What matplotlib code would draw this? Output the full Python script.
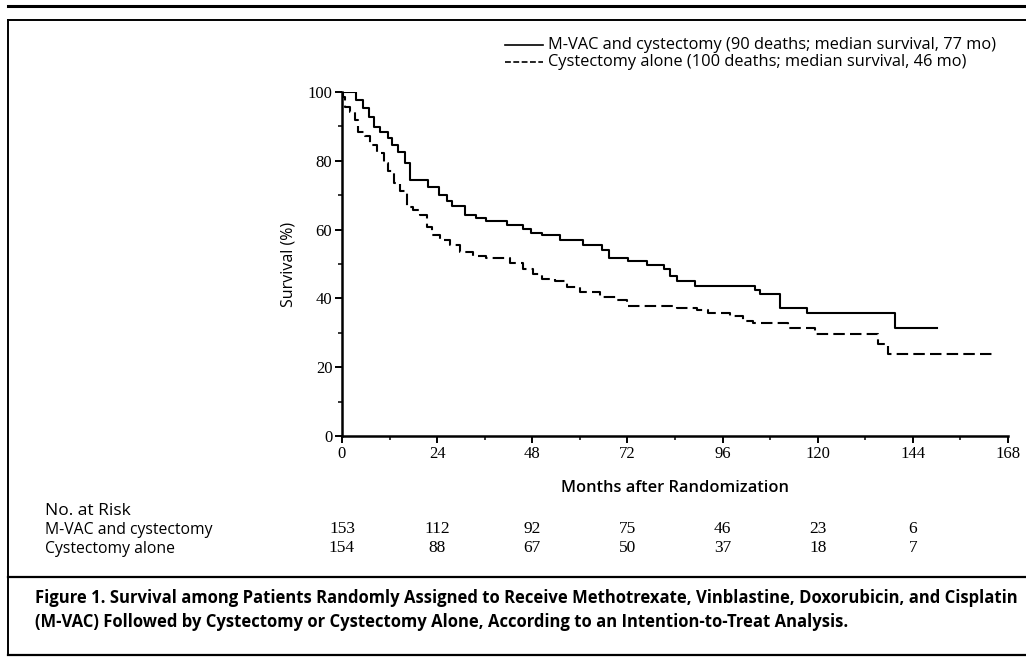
import matplotlib
matplotlib.use("Agg")
import matplotlib.pyplot as plt
from matplotlib.lines import Line2D
from matplotlib.ticker import MultipleLocator

# Kaplan-Meier steps (months, survival %)
mvac_months = [0, 3.5, 5.2, 6.8, 8.0, 9.5, 11.5, 12.5, 14.2, 15.9, 17.2, 21.8, 24.5, 26.5,
               27.7, 31.0, 33.9, 36.4, 41.5, 45.7, 47.8, 50.4, 55.0, 60.8, 65.5, 67.4, 72.2,
               76.9, 81.1, 82.7, 84.4, 89.0, 104.2, 105.4, 110.5, 117.2, 139.5, 150]
mvac_surv = [100, 97.7, 95.3, 92.8, 89.9, 88.5, 86.5, 84.6, 82.6, 79.3, 74.4, 72.5, 70.1, 68.4,
             66.8, 64.2, 63.4, 62.6, 61.4, 60.2, 59.1, 58.3, 57.1, 55.5, 54.1, 51.6, 51.0,
             49.7, 48.6, 46.5, 45.2, 43.6, 42.4, 41.2, 37.1, 35.7, 31.3, 31.3]

cyst_months = [0, 0.3, 0.8, 2.0, 3.3, 4.1, 5.8, 7.1, 8.8, 10.5, 11.7, 13.0, 14.7, 16.3, 18.0,
               19.7, 21.4, 22.6, 24.7, 27.2, 29.7, 33.1, 36.4, 42.4, 45.7, 48.3, 50.4, 53.7,
               56.7, 60.1, 65.1, 69.3, 71.8, 84.4, 89.5, 92.4, 97.9, 101.2, 103.8, 112.6,
               119.3, 135.3, 137.8, 164]
cyst_surv = [100, 98.5, 95.7, 94.3, 91.9, 88.5, 87.1, 84.6, 82.2, 79.3, 76.9, 73.5, 71.1, 66.7,
             65.6, 64.3, 60.9, 58.5, 57.0, 55.6, 53.6, 52.2, 51.6, 50.4, 48.6, 47.1, 45.7,
             45.0, 43.3, 41.9, 40.5, 39.6, 37.9, 37.2, 36.5, 35.8, 34.9, 33.4, 32.8, 31.5,
             29.6, 26.7, 23.8, 23.8]

risk_months = [0, 24, 48, 72, 96, 120, 144]
risk_mvac = [153, 112, 92, 75, 46, 23, 6]
risk_cyst = [154, 88, 67, 50, 37, 18, 7]

label_mvac = "M-VAC and cystectomy (90 deaths; median survival, 77 mo)"
label_cyst = "Cystectomy alone (100 deaths; median survival, 46 mo)"
caption = ("Figure 1. Survival among Patients Randomly Assigned to Receive Methotrexate, Vinblastine, "
           "Doxorubicin, and Cisplatin\n(M-VAC) Followed by Cystectomy or Cystectomy Alone, "
           "According to an Intention-to-Treat Analysis.")

W, H = 1026, 666
SANS = ["Open Sans", "DejaVu Sans"]
SERIF = ["Liberation Serif", "DejaVu Serif"]


def fx(px):
    return px / W


def fy(py):
    return 1 - py / H


fig = plt.figure(figsize=(W / 100, H / 100), dpi=100)
ax = fig.add_axes([fx(342), fy(436), (1008 - 342) / W, (436 - 92) / H])

ax.step(mvac_months, mvac_surv, where="post", color="black", lw=1.5)
ax.step(cyst_months, cyst_surv, where="post", color="black", lw=1.5, dashes=(5.5, 2.5))

ax.set_xlim(0, 168)
ax.set_ylim(0, 100)
ax.xaxis.set_major_locator(MultipleLocator(24))
ax.xaxis.set_minor_locator(MultipleLocator(12))
ax.yaxis.set_major_locator(MultipleLocator(20))
ax.yaxis.set_minor_locator(MultipleLocator(10))
for s in ["top", "right"]:
    ax.spines[s].set_visible(False)
for s in ["left", "bottom"]:
    ax.spines[s].set_linewidth(1.8)
ax.tick_params(which="major", direction="out", length=5, width=1.4, labelsize=12, pad=2)
ax.tick_params(which="minor", direction="out", length=3, width=1.1)
for lab in ax.get_xticklabels() + ax.get_yticklabels():
    lab.set_family(SERIF)
ax.set_ylabel("Survival (%)", family=SANS, fontsize=11.5, labelpad=8)
ax.set_xlabel("Months after Randomization", family=SANS, fontsize=11.8, fontweight="semibold",
              labelpad=13)

# legend drawn by hand at the top right
for py, lab, dash in [(45, label_mvac, None), (62, label_cyst, (3.5, 1.5))]:
    ln = Line2D([fx(505), fx(543)], [fy(py), fy(py)], color="black", lw=1.2,
                transform=fig.transFigure)
    if dash:
        ln.set_dashes(dash)
    fig.add_artist(ln)
    fig.text(fx(548), fy(py), lab, family=SANS, fontsize=11.8, va="center")

# number at risk table
fig.text(fx(45), fy(511), "No. at Risk", family=SANS, fontsize=12.5, fontweight="medium",
         va="center")
fig.text(fx(45), fy(530), "M-VAC and cystectomy", family=SANS, fontsize=11.3, va="center")
fig.text(fx(45), fy(549), "Cystectomy alone", family=SANS, fontsize=11.3, va="center")
for m, a, b in zip(risk_months, risk_mvac, risk_cyst):
    xt = ax.transData.transform((m, 0))[0] / W
    fig.text(xt, fy(529), str(a), family=SERIF, fontsize=12.5, ha="center", va="center")
    fig.text(xt, fy(548), str(b), family=SERIF, fontsize=12.5, ha="center", va="center")

# frame lines
for py, lw in [(6, 2.2), (20, 1.4), (577, 1.6), (655, 1.6)]:
    fig.add_artist(Line2D([fx(8), 1], [fy(py), fy(py)], color="black", lw=lw,
                          transform=fig.transFigure))
fig.add_artist(Line2D([fx(8), fx(8)], [fy(20), fy(655)], color="black", lw=1.4,
                      transform=fig.transFigure))

fig.text(fx(35), fy(610), caption, family=SANS, fontsize=12, fontweight="bold",
         va="center", linespacing=1.45)

fig.savefig("out.png", dpi=100)
